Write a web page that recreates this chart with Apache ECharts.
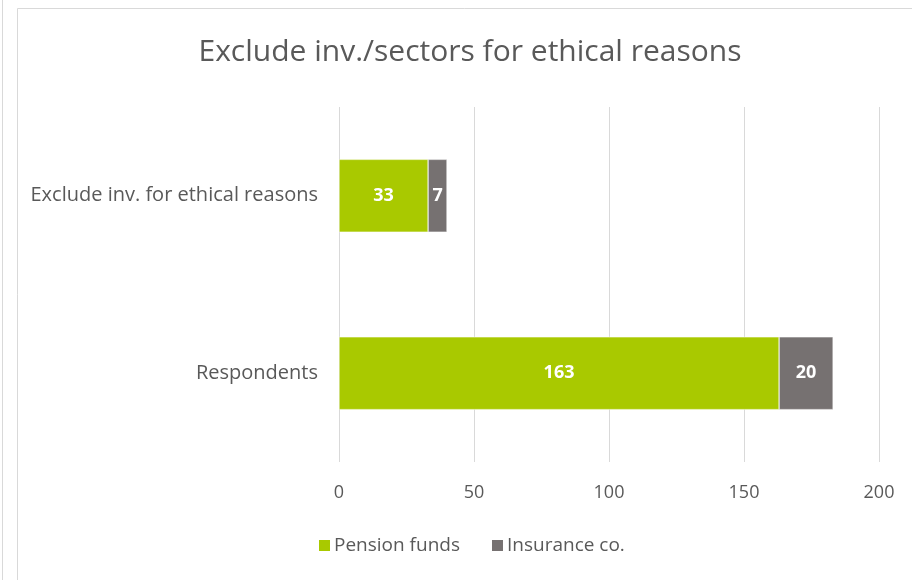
<!DOCTYPE html>
<html>
<head>
<meta charset="utf-8">
<script src="https://cdn.jsdelivr.net/npm/echarts@6/dist/echarts.min.js"></script>
<style>
html,body{margin:0;padding:0;background:#fff;}
#chart{width:912px;height:580px;}
</style>
</head>
<body>
<div id="chart"></div>
<script>
const titleText = 'Exclude inv./sectors for ethical reasons';
const categories = ['Respondents', 'Exclude inv. for ethical reasons'];
const seriesNames = ['Pension funds', 'Insurance co.'];
const pensionFunds = [163, 33];
const insuranceCo = [20, 7];
const xTicks = [0, 50, 100, 150, 200];

const FONT = '"Open Sans", sans-serif';
const chart = echarts.init(document.getElementById('chart'));
chart.setOption({
  animation: false,
  backgroundColor: '#ffffff',
  title: {
    text: titleText,
    left: 465,
    textAlign: 'center',
    top: 32,
    textStyle: {fontFamily: FONT, fontSize: 30, fontWeight: 'normal', color: '#595959'}
  },
  graphic: [
    {type: 'line', shape: {x1: 2.5, y1: 0, x2: 2.5, y2: 580}, style: {stroke: '#d9d9d9', lineWidth: 1}},
    {type: 'line', shape: {x1: 17.5, y1: 8.5, x2: 17.5, y2: 580}, style: {stroke: '#d9d9d9', lineWidth: 1}},
    {type: 'line', shape: {x1: 17.5, y1: 8.5, x2: 912, y2: 8.5}, style: {stroke: '#d9d9d9', lineWidth: 1}}
  ],
  legend: {
    data: seriesNames,
    bottom: 20,
    left: 312,
    itemWidth: 13,
    itemHeight: 13,
    itemGap: 30,
    icon: 'rect',
    textStyle: {fontFamily: FONT, fontSize: 19, color: '#595959', padding: [0,0,0,-2]}
  },
  grid: {left: 339, right: 33, top: 107, bottom: 118, containLabel: false},
  xAxis: {
    type: 'value',
    min: xTicks[0],
    max: xTicks[xTicks.length - 1],
    interval: 50,
    axisLine: {show: false},
    axisTick: {show: false},
    splitLine: {lineStyle: {color: '#d9d9d9', width: 1}},
    axisLabel: {fontFamily: FONT, fontSize: 18, color: '#595959', margin: 22}
  },
  yAxis: {
    type: 'category',
    data: categories,
    axisLine: {show: false},
    axisTick: {show: false},
    axisLabel: {fontFamily: FONT, fontSize: 20, color: '#595959', margin: 21}
  },
  series: [
    {
      name: seriesNames[0], type: 'bar', stack: 'total', data: pensionFunds,
      barWidth: '41%',
      itemStyle: {color: '#a9c900', borderColor: '#ffffff', borderWidth: 0.5},
      label: {show: true, position: 'inside', color: '#ffffff', fontFamily: FONT, fontSize: 18, fontWeight: 'bold'}
    },
    {
      name: seriesNames[1], type: 'bar', stack: 'total', data: insuranceCo,
      barWidth: '41%',
      itemStyle: {color: '#767171', borderColor: '#ffffff', borderWidth: 0.5},
      label: {show: true, position: 'inside', color: '#ffffff', fontFamily: FONT, fontSize: 18, fontWeight: 'bold'}
    }
  ]
});
</script>
</body>
</html>
